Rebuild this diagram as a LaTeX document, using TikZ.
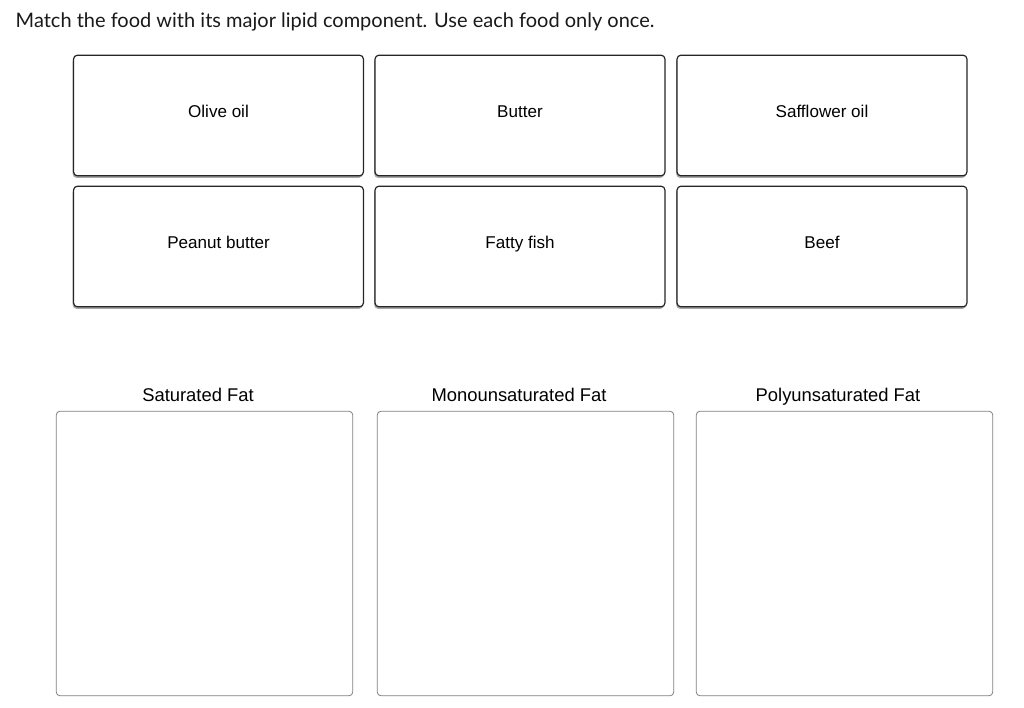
\documentclass[tikz,border=0pt]{standalone}
\usepackage{fontspec}
\setmainfont{Liberation Sans}
\newfontfamily\titlefont{Lato}
\usetikzlibrary{shadows}
\begin{document}
\begin{tikzpicture}[x=0.75pt,y=-0.75pt,
  card/.style={draw=black!85,line width=0.9pt,rounded corners=3pt,fill=white,
    drop shadow={shadow xshift=-0.6pt,shadow yshift=-1.6pt,opacity=0.7},
    minimum width=217.5pt,minimum height=90.5pt,font=\fontsize{12.8}{14}\selectfont,
    text height=6pt,text depth=2.7pt},
  bin/.style={draw=black!50,line width=0.6pt,rounded corners=3pt,minimum width=222.5pt,minimum height=213.5pt},
  lab/.style={font=\fontsize{13.8}{15}\selectfont,text height=7pt,text depth=2.9pt}]
\useasboundingbox (0,0) rectangle (1024,707);
\node[anchor=west,font=\titlefont\fontsize{15}{17}\selectfont,text=black!90] (title) at (11,22) {Match the food with its major lipid component. Use each food only once.};
\node[card] (c1) at (218.5,115.5) {Olive oil};
\node[card] (c2) at (520,115.5) {Butter};
\node[card] (c3) at (822,115.5) {Safflower oil};
\node[card] (c4) at (218.5,246.5) {Peanut butter};
\node[card] (c5) at (520,246.5) {Fatty fish};
\node[card] (c6) at (822,246.5) {Beef};
\node[bin] (b1) at (204.5,553.5) {};
\node[bin] (b2) at (525.5,553.5) {};
\node[bin] (b3) at (844.5,553.5) {};
\node[lab] (l1) at (198,399) {Saturated Fat};
\node[lab] (l2) at (519,399) {Monounsaturated Fat};
\node[lab] (l3) at (838,399) {Polyunsaturated Fat};
\end{tikzpicture}
\end{document}
